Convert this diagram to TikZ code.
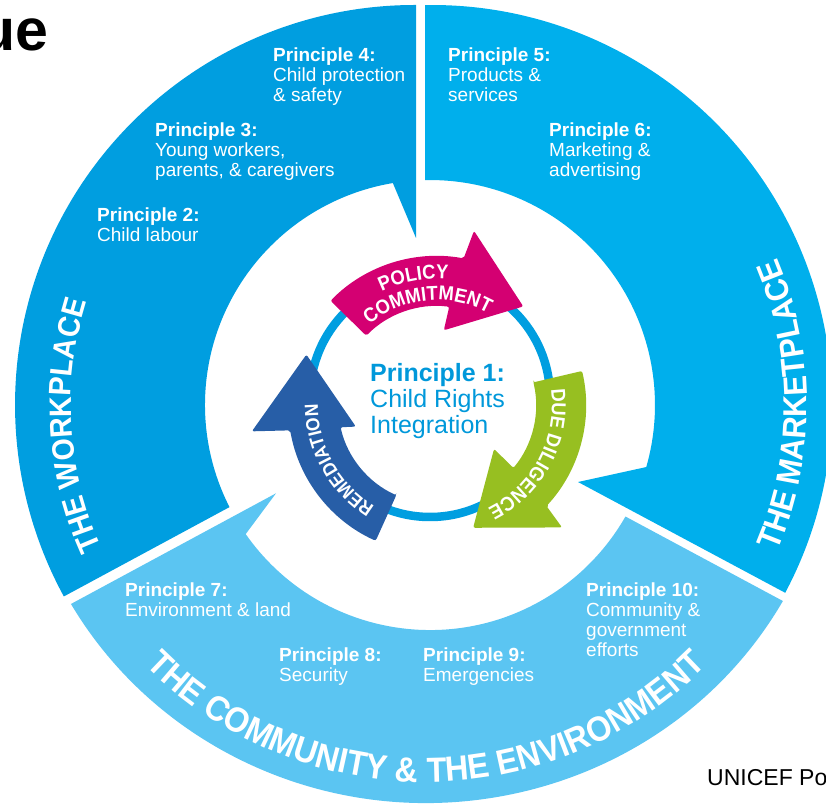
\documentclass[tikz,border=0pt]{standalone}
\usepackage{fontspec}
\setmainfont{Liberation Sans}
\newfontfamily\titlefont[FakeStretch=0.92]{Liberation Sans Bold}
\usetikzlibrary{calc,decorations.text}

\definecolor{workblue}{RGB}{0,158,224}
\definecolor{marketblue}{RGB}{0,175,236}
\definecolor{communityblue}{RGB}{91,197,242}
\definecolor{policypink}{RGB}{212,0,114}
\definecolor{diligencegreen}{RGB}{151,191,33}
\definecolor{remedyblue}{RGB}{39,94,167}
\definecolor{ringblue}{RGB}{0,158,224}
\definecolor{centreblue}{RGB}{0,152,218}

% curved arrow of the cycle: tail angle, colour, outward shift of the head
\newcommand{\cyclearrow}[3]{%
  \fill[#2,rounded corners=2pt] ($(C)+(#1:99)$) -- ($(C)+(#1:149)$)
    arc[start angle=#1,end angle=#1-55.9,radius=149]
    -- ($(C)+({#1-57.6}:{175+#3})$) -- ($(C)+({#1-86.8}:{128+#3})$)
    -- ($(C)+({#1-50.8}:{72+#3})$) -- ($(C)+({#1-52.7}:99)$)
    arc[start angle=#1-52.7,end angle=#1,radius=99] -- cycle;}

\begin{document}
\begin{tikzpicture}[x=1pt,y=1pt,
    principle/.style={anchor=north west,inner sep=0,align=left,text=white,
      font=\fontsize{19}{20}\selectfont}]
  \clip (0,0) rectangle (826,803);
  % centres
  \coordinate (W) at (415,398);
  \coordinate (M) at (432,398);
  \coordinate (T) at (426,417);
  \coordinate (C) at (437,398);
  \coordinate (R) at (430,406);

  % outer ring
  \fill[workblue] (416,798) arc[start angle=89.86,end angle=208.6,radius=400]
    -- (229.5,295.9) arc[start angle=207,end angle=99.5,radius=225]
    -- (416,565) -- cycle;
  \fill[marketblue] (425,797.9) -- (425,622.9)
    arc[start angle=91.27,end angle=-16,radius=225]
    -- (578,321) -- (785.2,210.2)
    arc[start angle=-28,end angle=91,radius=400] -- cycle;
  \fill[communityblue] (70.9,199) -- (276,309.7) -- (245.7,268.9)
    arc[start angle=215,end angle=330.3,radius=225] -- (782.9,202)
    arc[start angle=-29.5,end angle=-150,x radius=410,y radius=398] -- cycle;

  % cycle
  \draw[ringblue,line width=8.5] (R) circle[radius=120];
  \cyclearrow{135.6}{policypink}{3}
  \cyclearrow{13.2}{diligencegreen}{0}
  \cyclearrow{245.7}{remedyblue}{12}

  \path[decorate,decoration={text along path,text align=center,text color=white,
    text={|\titlefont\fontsize{20}{20}\selectfont|POLICY}}]
    ($(C)+(140:126)$) arc[start angle=140,end angle=61,radius=126];
  \path[decorate,decoration={text along path,text align=center,text color=white,
    text={|\titlefont\fontsize{20}{20}\selectfont|COMMITMENT}}]
    ($(C)+(142:105)$) arc[start angle=142,end angle=49,radius=105];
  \path[decorate,decoration={text along path,text align=center,text color=white,
    text={|\titlefont\fontsize{20}{20}\selectfont|DUE DILIGENCE}}]
    ($(C)+(24:115)$) arc[start angle=24,end angle=-80,radius=115];
  \path[decorate,decoration={text along path,text align=center,text color=white,
    text={|\titlefont\fontsize{19}{19}\selectfont|REMEDIATION}}]
    ($(C)+(254:119)$) arc[start angle=254,end angle=164,radius=119];

  % area titles
  \path[decorate,decoration={text along path,text align=center,text color=white,
    text={|\titlefont\fontsize{31}{31}\selectfont|THE WORKPLACE}}]
    ($(W)+(212:344)$) arc[start angle=212,end angle=155,radius=344];
  \path[decorate,decoration={text along path,text align=center,text color=white,
    text={|\titlefont\fontsize{33}{33}\selectfont|THE MARKETPLACE}}]
    ($(M)+(-32:375)$) arc[start angle=-32,end angle=32,radius=375];
  \path[decorate,decoration={text along path,text align=center,text color=white,
    text={|\titlefont\fontsize{35}{35}\selectfont|THE COMMUNITY {\&} THE ENVIRONMENT}}]
    ($(T)+(200:396)$) arc[start angle=200,end angle=340,radius=396];

  % principles
  \node[anchor=north west,inner sep=0,align=left,text=centreblue,
    font=\fontsize{25}{26}\selectfont] (p1) at (370,440)
    {\textbf{Principle 1:}\\Child Rights\\Integration};
  \node[principle] (p2) at (97,595) {\textbf{Principle 2:}\\Child labour};
  \node[principle] (p3) at (155,680) {\textbf{Principle 3:}\\Young workers,\\parents, \& caregivers};
  \node[principle] (p4) at (273,755) {\textbf{Principle 4:}\\Child protection\\\& safety};
  \node[principle] (p5) at (448,755) {\textbf{Principle 5:}\\Products \&\\services};
  \node[principle] (p6) at (549,680) {\textbf{Principle 6:}\\Marketing \&\\advertising};
  \node[principle] (p7) at (125,220) {\textbf{Principle 7:}\\Environment \& land};
  \node[principle] (p8) at (279,155) {\textbf{Principle 8:}\\Security};
  \node[principle] (p9) at (423,155) {\textbf{Principle 9:}\\Emergencies};
  \node[principle] (p10) at (586,220) {\textbf{Principle 10:}\\Community \&\\government\\efforts};

  % cut-off captions
  \node[anchor=base east,inner sep=0,font=\bfseries\fontsize{59}{59}\selectfont] (head) at (49,752) {ue};
  \node[anchor=base west,inner sep=0,font=\fontsize{23}{23}\selectfont] (source) at (707,18) {UNICEF Po};
\end{tikzpicture}
\end{document}
